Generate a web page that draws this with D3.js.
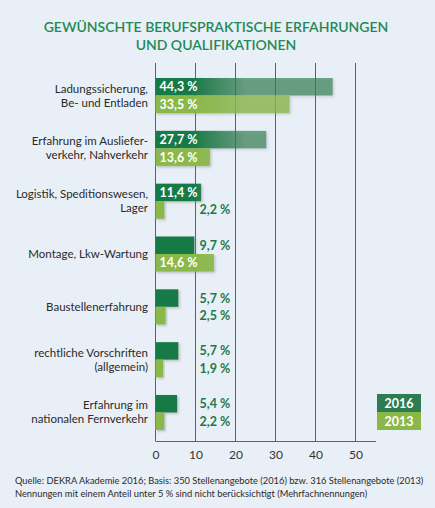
<!DOCTYPE html>
<html>
<head>
<meta charset="utf-8">
<script src="https://cdn.jsdelivr.net/npm/d3@7"></script>
<style>
  body { margin: 0; background: #e9eff7; }
  svg { display: block; }
</style>
</head>
<body>
<div id="chart"></div>
<script>
// data
let categories = [
  ["Ladungssicherung,", "Be- und Entladen"],
  ["Erfahrung im Ausliefer-", "verkehr, Nahverkehr"],
  ["Logistik, Speditionswesen,", "Lager"],
  ["Montage, Lkw-Wartung"],
  ["Baustellenerfahrung"],
  ["rechtliche Vorschriften", "(allgemein)"],
  ["Erfahrung im", "nationalen Fernverkehr"]
];
let values2016 = [44.3, 27.7, 11.4, 9.7, 5.7, 5.7, 5.4];
let values2013 = [33.5, 13.6, 2.2, 14.6, 2.5, 1.9, 2.2];
let series = ["2016", "2013"];
let ticks = [0, 10, 20, 30, 40, 50];

let width = 435;
let height = 508;
let dark = "#167a47";
let light = "#8ab848";
let fontFam = "Lato, 'Noto Sans', sans-serif";

let svg = d3.select("#chart")
  .append("svg")
  .attr("width", width)
  .attr("height", height);

// gradients: bars fade out to the right
let defs = svg.append("defs");
let grads = [["gDark", dark, 0.62], ["gLight", light, 0.75]];
grads.forEach(function(g) {
  let lg = defs.append("linearGradient")
    .attr("id", g[0])
    .attr("gradientUnits", "userSpaceOnUse")
    .attr("x1", 192).attr("x2", 245).attr("y1", 0).attr("y2", 0);
  lg.append("stop").attr("offset", 0).attr("stop-color", g[1]).attr("stop-opacity", 1);
  lg.append("stop").attr("offset", 1).attr("stop-color", g[1]).attr("stop-opacity", g[2]);
});
let shadow = defs.append("filter").attr("id", "shadow")
  .attr("x", "-10%").attr("y", "-20%").attr("width", "130%").attr("height", "160%");
shadow.append("feDropShadow")
  .attr("dx", 1.5).attr("dy", 1.5).attr("stdDeviation", 1)
  .attr("flood-color", "#7a8a80").attr("flood-opacity", 0.45);

// title
svg.append("g").selectAll("text")
  .data(["GEWÜNSCHTE BERUFSPRAKTISCHE ERFAHRUNGEN", "UND QUALIFIKATIONEN"])
  .enter()
  .append("text")
  .attr("x", 216)
  .attr("y", function(d, i) { return 32 + i * 18; })
  .attr("text-anchor", "middle")
  .attr("fill", "#1f8a55")
  .attr("font-family", fontFam)
  .attr("font-size", "14px")
  .attr("font-weight", "600")
  .text(function(d) { return d; });

// scales
let xScale = d3.scaleLinear()
  .domain([0, 50])
  .range([155.5, 355.5]);

let yScale = d3.scaleBand()
  .domain(d3.range(categories.length))
  .range([78, 430])
  .paddingInner(0.337)
  .paddingOuter(0);

let sub = d3.scaleBand()
  .domain(series)
  .range([0, yScale.bandwidth()]);

// grid
svg.append("g")
  .selectAll("line")
  .data(ticks)
  .enter()
  .append("line")
  .attr("x1", function(d) { return xScale(d); })
  .attr("x2", function(d) { return xScale(d); })
  .attr("y1", 63)
  .attr("y2", 441)
  .attr("stroke", "#5a5f7e")
  .attr("stroke-width", 1);

// x axis
let axisx = d3.axisBottom(xScale).tickValues(ticks).tickSize(0).tickPadding(9);
let gx = svg.append("g")
  .attr("transform", "translate(0,441)")
  .call(axisx);
gx.select(".domain").remove();
gx.selectAll("text")
  .attr("fill", "#333")
  .attr("font-family", fontFam)
  .attr("font-size", "12px");
svg.append("line")
  .attr("x1", xScale(0)).attr("x2", 376)
  .attr("y1", 441.5).attr("y2", 441.5)
  .attr("stroke", "#5a5f7e").attr("stroke-width", 1);

// bars
let rows = [];
for (let i = 0; i < categories.length; i++) {
  rows.push({ i: i, s: "2016", v: values2016[i] });
  rows.push({ i: i, s: "2013", v: values2013[i] });
}

svg.append("g")
  .selectAll("rect")
  .data(rows)
  .enter()
  .append("rect")
  .attr("x", xScale(0))
  .attr("y", function(d) { return yScale(d.i) + sub(d.s); })
  .attr("width", function(d) { return xScale(d.v) - xScale(0); })
  .attr("height", sub.bandwidth())
  .attr("fill", function(d) { return d.s == "2016" ? "url(#gDark)" : "url(#gLight)"; })
  .attr("filter", "url(#shadow)");

// value labels
svg.append("g")
  .selectAll("text")
  .data(rows)
  .enter()
  .append("text")
  .attr("x", function(d) { return d.v > 10 ? xScale(0) + 4 : xScale(10) + 4; })
  .attr("y", function(d) { return yScale(d.i) + sub(d.s) + sub.bandwidth() / 2 + 4.5; })
  .attr("fill", function(d) { return d.v > 10 ? "#ffffff" : "#1a7a4a"; })
  .attr("font-family", fontFam)
  .attr("font-size", "12.5px")
  .attr("font-weight", "bold")
  .text(function(d) { return String(d.v.toFixed(1)).replace(".", ",") + " %"; });

// category labels
let cat = svg.append("g")
  .selectAll("text")
  .data(categories)
  .enter()
  .append("text")
  .attr("text-anchor", "end")
  .attr("fill", "#2a2a2a")
  .attr("font-family", fontFam)
  .attr("font-size", "11.5px");
cat.each(function(d, i) {
  let cy = yScale(i) + yScale.bandwidth() / 2;
  let lh = 14;
  let y0 = cy - (d.length - 1) * lh / 2 + 4;
  d3.select(this).selectAll("tspan")
    .data(d)
    .enter()
    .append("tspan")
    .attr("x", 148)
    .attr("y", function(t, j) { return y0 + j * lh; })
    .text(function(t) { return t; });
});

// legend
let legend = svg.append("g")
  .selectAll("g")
  .data(series)
  .enter()
  .append("g")
  .attr("transform", function(d, i) { return "translate(377," + (394 + i * 18) + ")"; });
legend.append("rect")
  .attr("width", 44)
  .attr("height", 18)
  .attr("fill", function(d) { return d == "2016" ? "#2e7d52" : light; });
legend.append("text")
  .attr("x", 22)
  .attr("y", 13.5)
  .attr("text-anchor", "middle")
  .attr("fill", "#ffffff")
  .attr("font-family", fontFam)
  .attr("font-size", "12.5px")
  .attr("font-weight", "bold")
  .text(function(d) { return d; });

// footer
svg.append("g").selectAll("text")
  .data([
    "Quelle: DEKRA Akademie 2016; Basis: 350 Stellenangebote (2016) bzw. 316 Stellenangebote (2013)",
    "Nennungen mit einem Anteil unter 5 % sind nicht berücksichtigt (Mehrfachnennungen)"
  ])
  .enter()
  .append("text")
  .attr("x", 15)
  .attr("y", function(d, i) { return 484 + i * 13; })
  .attr("fill", "#2a2a2a")
  .attr("font-family", fontFam)
  .attr("font-size", "9.3px")
  .text(function(d) { return d; });
</script>
</body>
</html>
